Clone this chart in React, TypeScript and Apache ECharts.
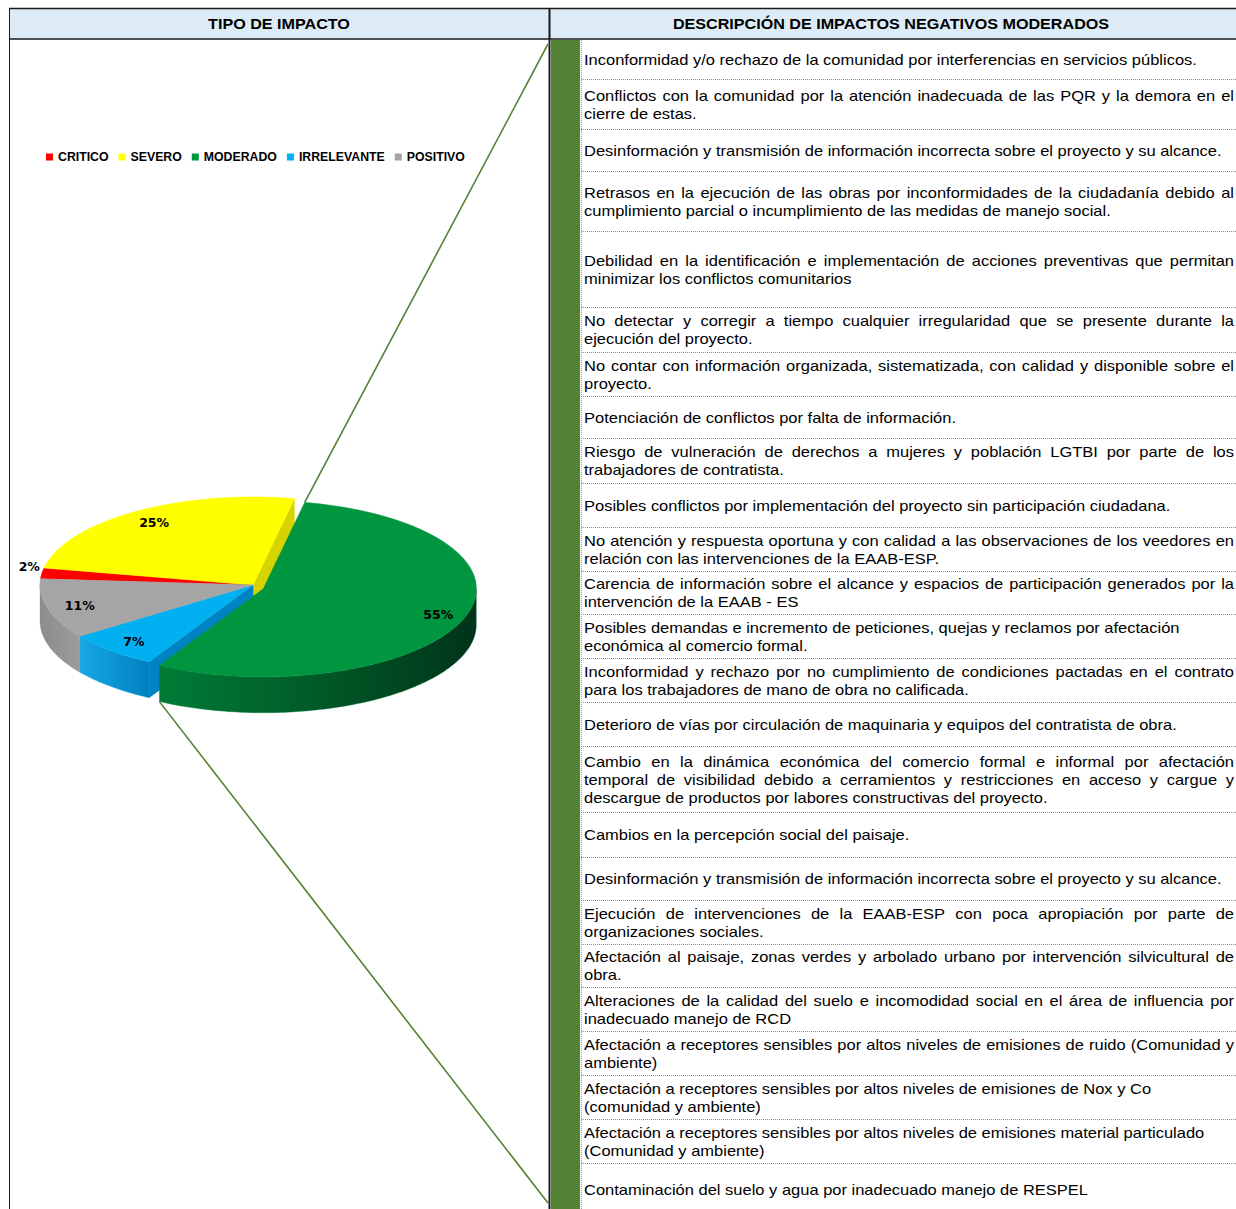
import React, { useEffect, useRef } from "react";
import * as echarts from "echarts";

// ---------- DATA ----------
const CATEGORIES = ["CRITICO", "SEVERO", "MODERADO", "IRRELEVANTE", "POSITIVO"];
const VALUES = [2, 25, 55, 7, 11];
const COLORS = ["#FF0000", "#FFFF00", "#00953F", "#00B0F0", "#A5A5A5"];
const WALL_COLORS = [
  ["#D00000", "#A00000"],
  ["#D8D800", "#B5B500"],
  ["#007C36", "#005A27", "#00331A"],
  ["#17A9E6", "#0080C0"],
  ["#8C8C8C", "#9C9C9C"],
];
const FACE_COLORS = ["#B00000", "#D6D400", "#006A2D", "#0083C3", "#888888"];
const EXPLODED = "MODERADO";

const LEFT_TITLE = "TIPO DE IMPACTO";
const RIGHT_TITLE = "DESCRIPCIÓN DE IMPACTOS NEGATIVOS MODERADOS";

const IMPACTS: string[][] = [
  ["Inconformidad y/o rechazo de la comunidad por interferencias en servicios públicos."],
  ["Conflictos con la comunidad por la atención inadecuada de las PQR y la demora en el", "cierre de estas."],
  ["Desinformación y transmisión de información incorrecta sobre el proyecto y su alcance."],
  ["Retrasos en la ejecución de las obras por inconformidades de la ciudadanía debido al", "cumplimiento parcial o incumplimiento de las medidas de manejo social."],
  ["Debilidad en la identificación e implementación de acciones preventivas que permitan", "minimizar los conflictos comunitarios"],
  ["No detectar y corregir a tiempo cualquier irregularidad que se presente durante la", "ejecución del proyecto."],
  ["No contar con información organizada, sistematizada, con calidad y disponible sobre el", "proyecto."],
  ["Potenciación de conflictos por falta de información."],
  ["Riesgo de vulneración de derechos a mujeres y población LGTBI por parte de los", "trabajadores de contratista."],
  ["Posibles conflictos por implementación del proyecto sin participación ciudadana."],
  ["No atención y respuesta oportuna y con calidad a las observaciones de los veedores en", "relación con las intervenciones de la EAAB-ESP."],
  ["Carencia de información sobre el alcance y espacios de participación generados por la", "intervención de la EAAB - ES"],
  ["Posibles demandas e incremento de peticiones, quejas y reclamos por afectación", "económica al comercio formal."],
  ["Inconformidad y rechazo por no cumplimiento de condiciones pactadas en el contrato", "para los trabajadores de mano de obra no calificada."],
  ["Deterioro de vías por circulación de maquinaria y equipos del contratista de obra."],
  ["Cambio en la dinámica económica del comercio formal e informal por  afectación", "temporal de visibilidad debido a cerramientos y restricciones en acceso y cargue y", "descargue de productos por labores constructivas del proyecto."],
  ["Cambios en la percepción social del paisaje."],
  ["Desinformación y transmisión de información incorrecta sobre el proyecto y su alcance."],
  ["Ejecución de intervenciones de la EAAB-ESP con poca apropiación por parte de", "organizaciones sociales."],
  ["Afectación al paisaje,  zonas verdes y arbolado urbano por intervención silvicultural de", "obra."],
  ["Alteraciones de la calidad del suelo e incomodidad social en el área de influencia por", "inadecuado manejo de RCD"],
  ["Afectación a receptores sensibles por altos niveles de emisiones de ruido (Comunidad y", "ambiente)"],
  ["Afectación a receptores sensibles por altos niveles de emisiones de Nox y Co", "(comunidad y ambiente)"],
  ["Afectación a receptores sensibles por altos niveles de emisiones material particulado", "(Comunidad y ambiente)"],
  ["Contaminación del suelo y agua por inadecuado manejo de RESPEL"],
];
const UNJUSTIFIED_ROWS = [12, 22, 23];

// ---------- LAYOUT ----------
const W = 1236;
const H = 1209;
const ROW_EDGES = [40, 79, 129, 171, 231, 307, 352, 396, 438, 483, 527, 571, 614, 658, 702, 746, 812, 857, 900, 944, 987, 1031, 1075, 1119, 1163, 1215];
const TEXT_LEFT = 584;
const TEXT_RIGHT = 1234;
const LINE_H = 18;
const TEXT_DY = 0.5;
const BODY_FONT = 14.6;
const BODY_SX = 1.13;
const HEAD_FONT = 14.8;
const HEAD_SX = 1.09;
const FONT_FAMILY = '"Liberation Sans", Arial, sans-serif';
const GREEN_BAR = "#548235";

// pie geometry
const CX = 253;
const CY = 585;
const RX = 213;
const RY = 88;
const DEPTH = 36;
const EXPLODE = 11;
const START_DEG = 274;
const LABEL_R = 0.86;

const TOTAL = VALUES.reduce((a, b) => a + b, 0);
const STARTS = VALUES.map((_, i) => START_DEG + (VALUES.slice(0, i).reduce((a, b) => a + b, 0) / TOTAL) * 360);

const rad = (d: number) => (d * Math.PI) / 180;

function sliceAngles(i: number, value: number) {
  const a0 = STARTS[i];
  const a1 = a0 + (value / TOTAL) * 360;
  const mid = (a0 + a1) / 2;
  const ex = CATEGORIES[i] === EXPLODED;
  const dx = ex ? EXPLODE * Math.sin(rad(mid)) : 0;
  const dy = ex ? -EXPLODE * Math.cos(rad(mid)) : 0;
  return { a0, a1, mid, ex, dx, dy };
}

function pt(t: number, dx: number, dy: number, down = 0, f = 1): number[] {
  return [CX + dx + RX * f * Math.sin(rad(t)), CY + dy - RY * f * Math.cos(rad(t)) + down];
}

function arc(a: number, b: number, dx: number, dy: number, down = 0): number[][] {
  const n = Math.max(2, Math.ceil(Math.abs(b - a)));
  const out: number[][] = [];
  for (let k = 0; k <= n; k++) out.push(pt(a + ((b - a) * k) / n, dx, dy, down));
  return out;
}

function grad(colors: string[]) {
  return new echarts.graphic.LinearGradient(
    0, 0, 1, 0,
    colors.map((c, k) => ({ offset: colors.length === 1 ? 0 : k / (colors.length - 1), color: c }))
  );
}

function sliceChildren(i: number, value: number): any[] {
  const n = CATEGORIES.length;
  const { a0, a1, mid, ex, dx, dy } = sliceAngles(i, value);
  const zb = ex ? 10 : 0;
  const prevEx = CATEGORIES[(i - 1 + n) % n] === EXPLODED;
  const nextEx = CATEGORIES[(i + 1) % n] === EXPLODED;
  const C = [CX + dx, CY + dy];
  const Cd = [CX + dx, CY + dy + DEPTH];
  const kids: any[] = [];

  const face = (a: number) => {
    const p = pt(a, dx, dy);
    const pd = pt(a, dx, dy, DEPTH);
    kids.push({
      type: "polygon",
      z2: 1 + zb,
      shape: { points: [C, p, pd, Cd] },
      style: { fill: FACE_COLORS[i], stroke: FACE_COLORS[i], lineWidth: 0.5 },
    });
  };
  if ((ex || prevEx) && Math.sin(rad(a0)) < 0) face(a0);
  if ((ex || nextEx) && Math.sin(rad(a1)) > 0) face(a1);

  // outer walls (front half only)
  for (let k = -1; k <= 1; k++) {
    const s = Math.max(a0, 90 + 360 * k);
    const e = Math.min(a1, 270 + 360 * k);
    if (e > s) {
      const top = arc(s, e, dx, dy);
      const bot = arc(e, s, dx, dy, DEPTH);
      kids.push({
        type: "polygon",
        z2: 2 + zb,
        shape: { points: top.concat(bot) },
        style: { fill: grad(WALL_COLORS[i]), stroke: WALL_COLORS[i][0], lineWidth: 0.3 },
      });
    }
  }

  // top face
  kids.push({
    type: "polygon",
    z2: 3 + zb,
    shape: { points: [C].concat(arc(a0, a1, dx, dy)) },
    style: { fill: COLORS[i], stroke: COLORS[i], lineWidth: 0.6 },
  });

  // label
  const small = value / TOTAL < 0.05;
  const lp = small ? pt(mid, dx, dy, 0, 1) : pt(mid, dx, dy, 0, LABEL_R);
  kids.push({
    type: "text",
    z2: 40,
    x: small ? lp[0] - 2 : lp[0] + 3,
    y: lp[1],
    style: {
      text: `${value}%`,
      fill: "#000",
      fontSize: 12.5,
      fontWeight: "bold",
      fontFamily: '"DejaVu Sans", Verdana, sans-serif',
      align: small ? "right" : "center",
      textAlign: small ? "right" : "center",
      verticalAlign: small ? "bottom" : "middle",
      textVerticalAlign: small ? "bottom" : "middle",
    },
  });
  return kids;
}

function buildTable(): any[] {
  const els: any[] = [];
  const ctx = document.createElement("canvas").getContext("2d");
  const measure = (s: string) => {
    if (!ctx) return s.length * BODY_FONT * 0.5;
    ctx.font = `${BODY_FONT}px ${FONT_FAMILY}`;
    return ctx.measureText(s).width;
  };

  // header band
  els.push({ type: "rect", z: 0, shape: { x: 9, y: 8, width: W - 9, height: 31 }, style: { fill: "#DDEBF7" } });
  // green bar
  els.push({ type: "rect", z: 0, shape: { x: 551, y: 40, width: 29, height: H - 40 }, style: { fill: GREEN_BAR } });

  // borders
  const line = (x1: number, y1: number, x2: number, y2: number, stroke: string, lw: number, dash?: number[]) =>
    els.push({
      type: "line",
      z: 1,
      shape: { x1, y1, x2, y2 },
      style: { stroke, lineWidth: lw, lineDash: dash },
    });
  line(9, 8.5, W, 8.5, "#1A1A1A", 1.5);
  line(9, 39, W, 39, "#1A1A1A", 1.5);
  line(9.5, 8, 9.5, H, "#1A1A1A", 1);
  line(549.5, 8, 549.5, H, "#1A1A1A", 2);
  line(581.5, 40, 581.5, H, "#A0A0A0", 1, [1, 1]);
  for (let r = 1; r < ROW_EDGES.length - 1; r++) {
    line(581, ROW_EDGES[r] + 0.5, W, ROW_EDGES[r] + 0.5, "#8C8C8C", 1, [1, 1]);
  }

  // header texts
  const head = (text: string, x: number) =>
    els.push({
      type: "text",
      z: 5,
      x,
      y: 24,
      scaleX: HEAD_SX,
      style: {
        text,
        fill: "#000",
        fontSize: HEAD_FONT,
        fontWeight: "bold",
        fontFamily: FONT_FAMILY,
        align: "center",
        textAlign: "center",
        verticalAlign: "middle",
        textVerticalAlign: "middle",
      },
    });
  head(LEFT_TITLE, 279);
  head(RIGHT_TITLE, 891);

  // body rows
  const word = (text: string, x: number, y: number) =>
    els.push({
      type: "text",
      z: 5,
      x,
      y,
      scaleX: BODY_SX,
      style: {
        text,
        fill: "#000",
        fontSize: BODY_FONT,
        fontFamily: FONT_FAMILY,
        align: "left",
        textAlign: "left",
        verticalAlign: "middle",
        textVerticalAlign: "middle",
      },
    });

  IMPACTS.forEach((lines, r) => {
    const center = (ROW_EDGES[r] + ROW_EDGES[r + 1]) / 2;
    const n = lines.length;
    lines.forEach((ln, k) => {
      const y = center + (k - (n - 1) / 2) * LINE_H + TEXT_DY;
      const justify = k < n - 1 && !UNJUSTIFIED_ROWS.includes(r);
      if (!justify) {
        word(ln, TEXT_LEFT, y);
        return;
      }
      const words = ln.split(/\s+/).filter((w) => w.length > 0);
      const widths = words.map((w) => measure(w) * BODY_SX);
      const total = widths.reduce((a, b) => a + b, 0);
      const gap = (TEXT_RIGHT - TEXT_LEFT - total) / Math.max(1, words.length - 1);
      let x = TEXT_LEFT;
      words.forEach((w, j) => {
        word(w, x, y);
        x += widths[j] + gap;
      });
    });
  });

  // connector lines from exploded slice to the description column
  const gi = CATEGORIES.indexOf(EXPLODED);
  const g = sliceAngles(gi, VALUES[gi]);
  const pTop = pt(g.a0, g.dx, g.dy);
  const pBot = pt(g.a1, g.dx, g.dy, DEPTH);
  line(pTop[0], pTop[1], 548, 44, GREEN_BAR, 1.6);
  line(pBot[0], pBot[1], 548, 1203, GREEN_BAR, 1.6);
  return els;
}

function buildOption(): any {
  return {
    animation: false,
    backgroundColor: "#FFFFFF",
    legend: {
      data: CATEGORIES,
      left: 46,
      top: 151,
      padding: 0,
      icon: "rect",
      itemWidth: 7,
      itemHeight: 7,
      itemGap: 10,
      selectedMode: false,
      textStyle: { color: "#000", fontSize: 12.3, fontWeight: "bold", fontFamily: FONT_FAMILY },
    },
    graphic: { elements: buildTable() },
    series: CATEGORIES.map((name, i) => ({
      type: "custom",
      name,
      coordinateSystem: "none",
      silent: true,
      z: 2,
      itemStyle: { color: COLORS[i] },
      data: [[VALUES[i]]],
      renderItem: (_params: any, api: any) => ({
        type: "group",
        children: sliceChildren(i, Number(api.value(0))),
      }),
    })),
  };
}

export default function App() {
  const ref = useRef<HTMLDivElement>(null);
  useEffect(() => {
    if (!ref.current) return;
    const chart = echarts.init(ref.current, null, { renderer: "svg" });
    chart.setOption(buildOption());
    return () => chart.dispose();
  }, []);
  return (
    <div
      ref={ref}
      style={{ position: "absolute", left: 0, top: 0, width: W, height: H, background: "#fff" }}
    />
  );
}
